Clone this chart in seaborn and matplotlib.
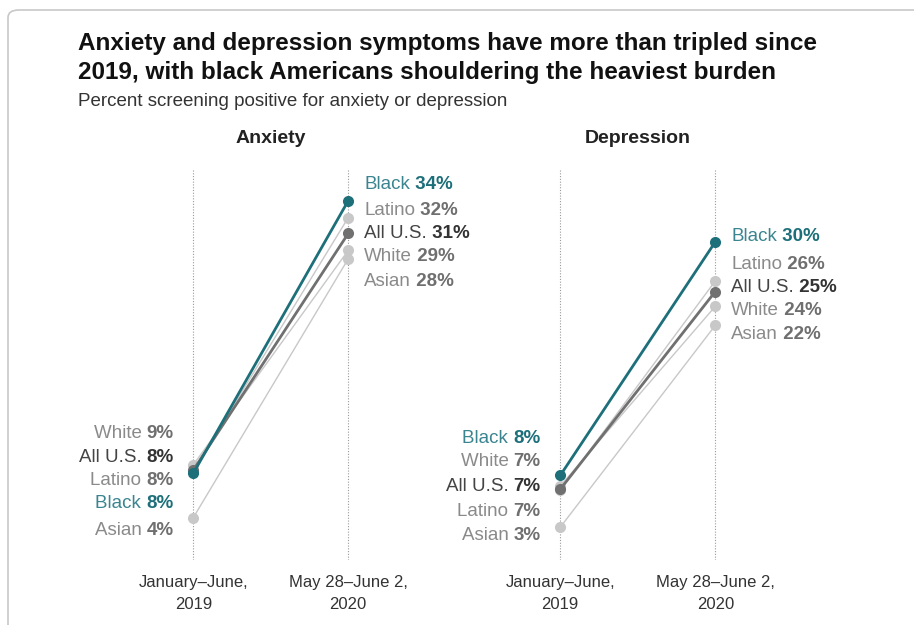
import pandas as pd
import seaborn as sns
import matplotlib.pyplot as plt
from matplotlib.patches import FancyBboxPatch

# data (percent screening positive)
groups = ["Black", "Latino", "All U.S.", "White", "Asian"]
periods = ["January\u2013June,\n2019", "May 28\u2013June 2,\n2020"]
anxiety_2019 = [8.2, 8.4, 8.5, 9.0, 4.0]
anxiety_2020 = [34.0, 32.4, 30.9, 29.3, 28.5]
depression_2019 = [8.0, 6.6, 6.7, 7.0, 3.1]
depression_2020 = [30.1, 26.4, 25.4, 24.0, 22.2]

# label text shown next to the points
anxiety_lab_2019 = [8, 8, 8, 9, 4]
anxiety_lab_2020 = [34, 32, 31, 29, 28]
depression_lab_2019 = [8, 7, 7, 7, 3]
depression_lab_2020 = [30, 26, 25, 24, 22]

# label stacking (y in data units) so labels don't collide
anx_pos_2019 = {"White": 12.0, "All U.S.": 9.7, "Latino": 7.5, "Black": 5.3, "Asian": 2.8}
anx_pos_2020 = {"Black": 35.5, "Latino": 33.1, "All U.S.": 30.9, "White": 28.7, "Asian": 26.4}
dep_pos_2019 = {"Black": 11.5, "White": 9.3, "All U.S.": 7.0, "Latino": 4.6, "Asian": 2.3}
dep_pos_2020 = {"Black": 30.6, "Latino": 28.0, "All U.S.": 25.8, "White": 23.6, "Asian": 21.3}

TEAL = "#1d6f7a"
line_colors = {"Black": TEAL, "All U.S.": "#707070", "Latino": "#c8c8c8",
               "White": "#c8c8c8", "Asian": "#c8c8c8"}
line_sizes = {"Black": 2.0, "All U.S.": 2.0, "Latino": 1.0, "White": 1.0, "Asian": 1.0}
name_colors = {"Black": "#3a8590", "All U.S.": "#444444", "Latino": "#8a8a8a",
               "White": "#8a8a8a", "Asian": "#8a8a8a"}
value_colors = {"Black": "#1d6f7a", "All U.S.": "#333333", "Latino": "#6f6f6f",
                "White": "#6f6f6f", "Asian": "#6f6f6f"}
draw_order = ["Asian", "White", "Latino", "All U.S.", "Black"]


def make_df(v19, v20):
    rows = []
    for g, a, b in zip(groups, v19, v20):
        rows.append({"group": g, "x": 0, "value": a})
        rows.append({"group": g, "x": 1, "value": b})
    return pd.DataFrame(rows)


def label(ax, x, y, name, value, side):
    fs = 13.5
    if side == "right":
        t = ax.annotate(name, xy=(x, y), xytext=(11.5, 0), textcoords="offset points",
                        ha="left", va="center", fontsize=fs, color=name_colors[name],
                        annotation_clip=False)
        ax.annotate(" %d%%" % value, xy=(1, 0), xycoords=t, ha="left", va="bottom",
                    fontsize=fs, fontweight="bold", color=value_colors[name])
    else:
        t = ax.annotate("%d%%" % value, xy=(x, y), xytext=(-14, 0), textcoords="offset points",
                        ha="right", va="center", fontsize=fs, fontweight="bold",
                        color=value_colors[name], annotation_clip=False)
        ax.annotate(name + " ", xy=(0, 0), xycoords=t, ha="right", va="bottom",
                    fontsize=fs, color=name_colors[name])


def panel(ax, title, v19, v20, lab19, lab20, pos19, pos20):
    df = make_df(v19, v20)
    ax.set_facecolor("none")
    ax.axvline(0, color="#9a9a9a", lw=0.8, ls=(0, (1, 1.5)), zorder=0)
    ax.axvline(1, color="#9a9a9a", lw=0.8, ls=(0, (1, 1.5)), zorder=0)
    sns.lineplot(data=df, x="x", y="value", hue="group", hue_order=draw_order,
                 palette=line_colors, size="group", sizes=line_sizes, size_order=draw_order,
                 marker="o", markersize=8, markeredgewidth=0, legend=False, ax=ax)
    for g, a, b in zip(groups, lab19, lab20):
        label(ax, 0, pos19[g], g, a, "left")
        label(ax, 1, pos20[g], g, b, "right")
    ax.set_xlim(-0.75, 1.75)
    ax.set_ylim(0, 37)
    ax.set_xticks([0, 1])
    ax.set_xticklabels(periods, fontsize=12, color="#333333", linespacing=1.6)
    ax.tick_params(axis="x", length=0, pad=11)
    ax.set_yticks([])
    ax.set_xlabel("")
    ax.set_ylabel("")
    for s in ax.spines.values():
        s.set_visible(False)
    ax.text(0.5, 39.9, title, ha="center", va="center", fontsize=14,
            fontweight="bold", color="#222222", clip_on=False)


sns.set_theme(style="white")
plt.rcParams["font.family"] = ["Liberation Sans", "DejaVu Sans"]

fig = plt.figure(figsize=(9.14, 6.25), dpi=100)
W, H = 914, 625
bottom = 1 - 560 / H
height = (560 - 169) / H
ax1 = fig.add_axes([77 / W, bottom, 387.5 / W, height])
ax2 = fig.add_axes([444 / W, bottom, 387.5 / W, height])

panel(ax1, "Anxiety", anxiety_2019, anxiety_2020, anxiety_lab_2019, anxiety_lab_2020,
      anx_pos_2019, anx_pos_2020)
panel(ax2, "Depression", depression_2019, depression_2020, depression_lab_2019,
      depression_lab_2020, dep_pos_2019, dep_pos_2020)

fig.text(78 / W, 1 - 32 / H,
         "Anxiety and depression symptoms have more than tripled since\n"
         "2019, with black Americans shouldering the heaviest burden",
         ha="left", va="top", fontsize=17.5, fontweight="bold", color="#111111",
         linespacing=1.32)
fig.text(78 / W, 1 - 101 / H, "Percent screening positive for anxiety or depression",
         ha="left", va="center", fontsize=13.5, color="#333333")

frame = FancyBboxPatch((8 / W, -0.05), 1.2, 1 - 10 / H + 0.05,
                       boxstyle="round,pad=0,rounding_size=0.012",
                       transform=fig.transFigure, fill=False, ec="#c8c8c8", lw=1.2)
fig.patches.append(frame)

fig.savefig("out.png", dpi=100)
